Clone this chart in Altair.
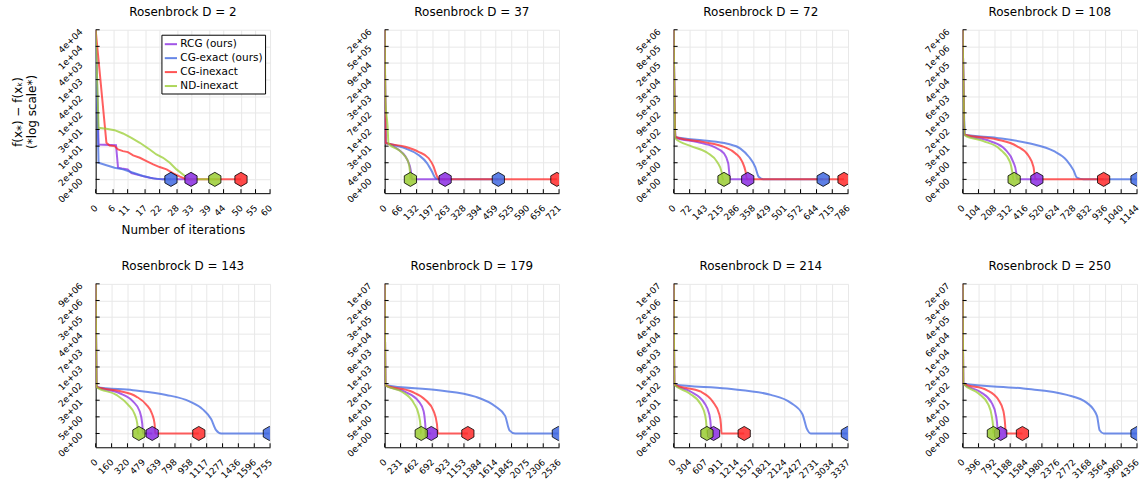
import json
import altair as alt
import pandas as pd

SERIES = ["RCG (ours)", "CG-exact (ours)", "CG-inexact", "ND-inexact"]
COLORS = ["#8A2BE2", "#4169E1", "#FF2A2A", "#9ACD32"]
DIMS = [2, 37, 72, 108, 143, 179, 214, 250]

# x tick labels per panel (last one is the x-axis maximum)
X_TICKS = {
    2: [0, 6, 11, 17, 22, 28, 33, 39, 44, 50, 55, 60],
    37: [0, 66, 132, 197, 263, 328, 394, 459, 525, 590, 656, 721],
    72: [0, 72, 143, 215, 286, 358, 429, 501, 572, 644, 715, 786],
    108: [0, 104, 208, 312, 416, 520, 624, 728, 832, 936, 1040, 1144],
    143: [0, 160, 320, 479, 639, 798, 958, 1117, 1277, 1436, 1596, 1755],
    179: [0, 231, 462, 692, 923, 1153, 1384, 1614, 1845, 2075, 2306, 2536],
    214: [0, 304, 607, 911, 1214, 1517, 1821, 2124, 2427, 2731, 3034, 3337],
    250: [0, 396, 792, 1188, 1584, 1980, 2376, 2772, 3168, 3564, 3960, 4356],
}

# y axis: evenly spaced positions 0..9 on the compressed "log" scale, with these labels
Y_TICKS = [0, 1, 2, 3, 4, 5, 6, 7, 8, 9]
Y_LABELS = {
    2: ["0e+00", "2e+00", "1e+01", "3e+01", "1e+02", "4e+02", "1e+03", "4e+03", "1e+04", "4e+04"],
    37: ["0e+00", "4e+00", "3e+01", "1e+02", "7e+02", "3e+03", "2e+04", "9e+04", "5e+05", "2e+06"],
    72: ["0e+00", "4e+00", "3e+01", "2e+02", "9e+02", "5e+03", "3e+04", "2e+05", "8e+05", "5e+06"],
    108: ["0e+00", "5e+00", "3e+01", "2e+02", "1e+03", "6e+03", "4e+04", "2e+05", "1e+06", "7e+06"],
    143: ["0e+00", "5e+00", "3e+01", "2e+02", "1e+03", "7e+03", "4e+04", "3e+05", "2e+06", "9e+06"],
    179: ["0e+00", "5e+00", "4e+01", "2e+02", "1e+03", "8e+03", "5e+04", "3e+05", "2e+06", "1e+07"],
    214: ["0e+00", "5e+00", "4e+01", "2e+02", "1e+03", "9e+03", "6e+04", "4e+05", "2e+06", "1e+07"],
    250: ["0e+00", "5e+00", "4e+01", "3e+02", "2e+03", "1e+04", "6e+04", "4e+05", "3e+06", "2e+07"],
}
Y_BOTTOM = -0.83

# Curves: iteration (x) and position on the compressed y axis (tick units)
RCG_X = {
    2: [0, 1, 7, 7.7, 9, 11, 12.3, 15.2, 18.6, 21, 23, 32.8],
    37: [0, 4, 16, 58, 85, 99, 105, 110, 113, 250],
    72: [0, 8, 107, 182, 227, 246, 252, 254, 334],
    108: [0, 15, 180, 278, 333, 351, 357, 487],
    143: [0, 8, 241, 375, 442, 469, 476, 569],
    179: [0, 10, 300, 494, 566, 590, 600, 678],
    214: [0, 12, 331, 586, 682, 713, 720, 764],
    250: [0, 15, 434, 726, 835, 868, 876, 951],
}
RCG_Y = {
    2: [9, 2.1, 2.05, 0.7, 0.65, 0.6, 0.38, 0.24, 0.1, 0.03, 0, 0],
    37: [9, 2.2, 2.15, 1.78, 1.4, 1.0, 0.75, 0.35, 0, 0],
    72: [9, 2.5, 2.24, 1.95, 1.56, 0.97, 0.2, 0, 0],
    108: [9, 2.68, 2.3, 1.81, 1.03, 0.45, 0, 0],
    143: [9, 2.8, 2.42, 1.93, 1.35, 0.58, 0, 0],
    179: [9, 2.9, 2.5, 1.93, 1.35, 0.58, 0, 0],
    214: [9, 2.94, 2.51, 1.84, 1.16, 0.39, 0, 0],
    250: [9, 3.0, 2.51, 1.84, 1.06, 0.39, 0, 0],
}
CGE_X = {
    2: [0, 1, 3.7, 6.5, 9.4, 12.9, 16.3, 19.8, 23.2, 25.9],
    37: [0, 4, 16, 85, 140, 175, 195, 209, 223, 470],
    72: [0, 8, 137, 242, 301, 339, 368, 383, 406, 674],
    108: [0, 15, 224, 443, 596, 684, 728, 750, 794, 1144],
    143: [0, 8, 375, 710, 944, 1078, 1162, 1212, 1263, 1748],
    179: [0, 10, 784, 1316, 1607, 1752, 1815, 1897, 2526],
    214: [0, 12, 1019, 1860, 2242, 2465, 2548, 2624, 3325],
    250: [0, 15, 1519, 2604, 3105, 3356, 3422, 3523, 4356],
}
CGE_Y = {
    2: [9, 1.0, 0.85, 0.7, 0.6, 0.4, 0.2, 0.06, 0, 0],
    37: [9, 2.2, 2.15, 1.86, 1.47, 0.98, 0.49, 0.1, 0, 0],
    72: [9, 2.55, 2.34, 2.14, 1.85, 1.36, 0.74, 0.16, 0, 0],
    108: [9, 2.68, 2.49, 2.16, 1.71, 1.13, 0.54, 0.1, 0, 0],
    143: [9, 2.8, 2.6, 2.32, 1.93, 1.45, 0.87, 0.2, 0, 0],
    179: [9, 2.9, 2.6, 2.22, 1.64, 1.06, 0.19, 0, 0],
    214: [9, 2.94, 2.7, 2.32, 1.84, 1.16, 0.29, 0, 0],
    250: [9, 3.0, 2.7, 2.32, 1.84, 1.06, 0.19, 0, 0],
}
CGI_X = {
    2: [0, 3.7, 4.8, 6.5, 7.7, 9.4, 11.1, 12.9, 15.2, 17.5, 19.8, 22, 24.4, 26.7, 29, 31.3, 50],
    37: [0, 4, 16, 85, 140, 182, 202, 216, 225, 712],
    72: [0, 8, 137, 227, 279, 309, 324, 331, 768],
    108: [0, 15, 224, 355, 432, 465, 478, 925],
    143: [0, 8, 241, 409, 509, 569, 593, 600, 1038],
    179: [0, 10, 397, 590, 712, 760, 774, 1210],
    214: [0, 12, 522, 745, 873, 904, 917, 1350],
    250: [0, 15, 601, 893, 1018, 1060, 1077, 1494],
}
CGI_Y = {
    2: [9, 2.2, 2.04, 2.0, 1.8, 1.7, 1.64, 1.44, 1.3, 1.1, 0.9, 0.74, 0.6, 0.36, 0.16, 0, 0],
    37: [9, 2.2, 2.15, 1.96, 1.66, 1.27, 0.78, 0.2, 0, 0],
    72: [9, 2.55, 2.24, 1.95, 1.56, 1.07, 0.49, 0, 0],
    108: [9, 2.68, 2.4, 2.0, 1.42, 0.74, 0, 0],
    143: [9, 2.8, 2.55, 2.22, 1.74, 1.16, 0.58, 0, 0],
    179: [9, 2.9, 2.51, 2.03, 1.35, 0.58, 0, 0],
    214: [9, 2.94, 2.51, 1.93, 1.16, 0.58, 0, 0],
    250: [9, 3.0, 2.61, 2.03, 1.35, 0.58, 0, 0],
}
NDI_X = {
    2: [0, 1, 3.7, 6.5, 9.4, 12.3, 15.2, 18.6, 20.9, 23.2, 25.5, 27.8, 30.7, 32.4, 41],
    37: [0, 3, 12, 16, 58, 85, 99, 103, 105.5, 106.5],
    72: [0, 8, 78, 152, 197, 216, 222, 227],
    108: [0, 15, 136, 245, 311, 326, 333, 338],
    143: [0, 8, 208, 325, 392, 419, 425, 435],
    179: [0, 10, 252, 421, 494, 523, 528, 532],
    214: [0, 12, 299, 522, 605, 630, 637],
    250: [0, 15, 392, 643, 726, 762, 768],
}
NDI_Y = {
    2: [9, 3.1, 3.04, 2.96, 2.76, 2.5, 2.2, 1.8, 1.5, 1.3, 1.0, 0.6, 0.2, 0, 0],
    37: [9, 4.7, 3.2, 2.15, 1.76, 1.37, 0.98, 0.68, 0.3, 0],
    72: [9, 2.45, 2.0, 1.6, 1.03, 0.45, 0, 0],
    108: [9, 2.65, 2.3, 1.81, 1.03, 0.45, 0, 0],
    143: [9, 2.8, 2.32, 1.74, 1.16, 0.58, 0, 0],
    179: [9, 2.9, 2.51, 1.84, 1.16, 0.39, 0, 0],
    214: [9, 2.94, 2.42, 1.74, 1.06, 0.39, 0],
    250: [9, 3.0, 2.42, 1.74, 1.06, 0.39, 0],
}

CURVES = [(SERIES[0], RCG_X, RCG_Y), (SERIES[1], CGE_X, CGE_Y),
          (SERIES[2], CGI_X, CGI_Y), (SERIES[3], NDI_X, NDI_Y)]

W, H = 175, 164
FONT = "DejaVu Sans"
HEX = "M0,-1L0.866,-0.5L0.866,0.5L0,1L-0.866,0.5L-0.866,-0.5Z"


def panel(d, first):
    rows = []
    for name, xs, ys in CURVES:
        for x, y in zip(xs[d], ys[d]):
            rows.append({"series": name, "x": x, "y": y})
    df = pd.DataFrame(rows)
    ends = df.groupby("series", sort=False).tail(1)
    xt = X_TICKS[d]
    xscale = alt.Scale(domain=[0, xt[-1]], nice=False, zero=False)
    yscale = alt.Scale(domain=[Y_BOTTOM, 9], nice=False, zero=False)
    cscale = alt.Scale(domain=SERIES, range=COLORS)
    if first:
        legend = alt.Legend(orient="none", legendX=66, legendY=5, title=None,
                            symbolType="stroke", symbolSize=150, symbolStrokeWidth=2,
                            symbolOpacity=0.8, labelFont=FONT, labelFontSize=10.5,
                            labelColor="black", strokeColor="black", fillColor="white",
                            padding=2, rowPadding=1, cornerRadius=0, labelOffset=2)
        xaxis = alt.Axis(values=xt, format="d", title="Number of iterations")
        yaxis = alt.Axis(values=Y_TICKS, labelExpr=json.dumps(Y_LABELS[d]) + "[datum.value]",
                         title=["f(x\u204e) \u2212 f(x\u2096)", "(*log scale*)"])
    else:
        legend = None
        xaxis = alt.Axis(values=xt, format="d", title=None)
        yaxis = alt.Axis(values=Y_TICKS, labelExpr=json.dumps(Y_LABELS[d]) + "[datum.value]",
                         title=None)

    X = alt.X("x:Q", scale=xscale, axis=xaxis)
    Y = alt.Y("y:Q", scale=yscale, axis=yaxis)

    lines = alt.Chart(df).mark_line(
        strokeWidth=2, opacity=0.75, clip=True,
        interpolate="linear" if d == 2 else "monotone",
    ).encode(x=X, y=Y, color=alt.Color("series:N", scale=cscale, legend=legend))
    marks = alt.Chart(ends).mark_point(
        shape=HEX, size=200, filled=True, stroke="black", strokeWidth=0.8,
        fillOpacity=0.85, opacity=1, clip=True,
    ).encode(x=X, y=Y, color=alt.Color("series:N", scale=cscale, legend=legend))
    yt = alt.Chart(pd.DataFrame({"y": Y_TICKS})).mark_rule(color="black", strokeWidth=1).encode(
        y=Y, x=alt.value(0), x2=alt.value(4)
    )
    xtk = alt.Chart(pd.DataFrame({"x": xt})).mark_rule(color="black", strokeWidth=1).encode(
        x=X, y=alt.value(H), y2=alt.value(H - 4)
    )
    return alt.layer(lines, marks, yt, xtk).properties(
        width=W, height=H,
        title=alt.TitleParams(f"Rosenbrock D = {d}", font=FONT, fontSize=12,
                              fontWeight="normal", color="black", offset=8, anchor="middle"),
    )


charts = [panel(d, i == 0) for i, d in enumerate(DIMS)]
chart = alt.concat(*charts, columns=4).properties(
    spacing={"row": 91, "column": 115}, bounds="flush",
    padding={"left": 11, "top": 5, "right": 0, "bottom": 0},
).resolve_scale(
    color="independent", x="independent", y="independent"
).configure_view(stroke=None).configure_axis(
    labelFont=FONT, labelFontSize=9, labelColor="black", labelAngle=-45,
    labelOverlap=False, labelFlush=False, labelBound=False,
    ticks=False, domainColor="black", domainWidth=1,
    gridColor="#e8e8e8", gridWidth=1,
    titleFont=FONT, titleFontSize=12, titleFontWeight="normal", titleColor="black",
).configure_axisX(
    labelAlign="right", labelBaseline="middle", labelPadding=13, titlePadding=7,
).configure_axisY(
    labelAlign="right", labelBaseline="middle", labelPadding=15, titlePadding=18.5,
)

chart.save("out.html", embed_options={"renderer": "svg", "actions": False})
